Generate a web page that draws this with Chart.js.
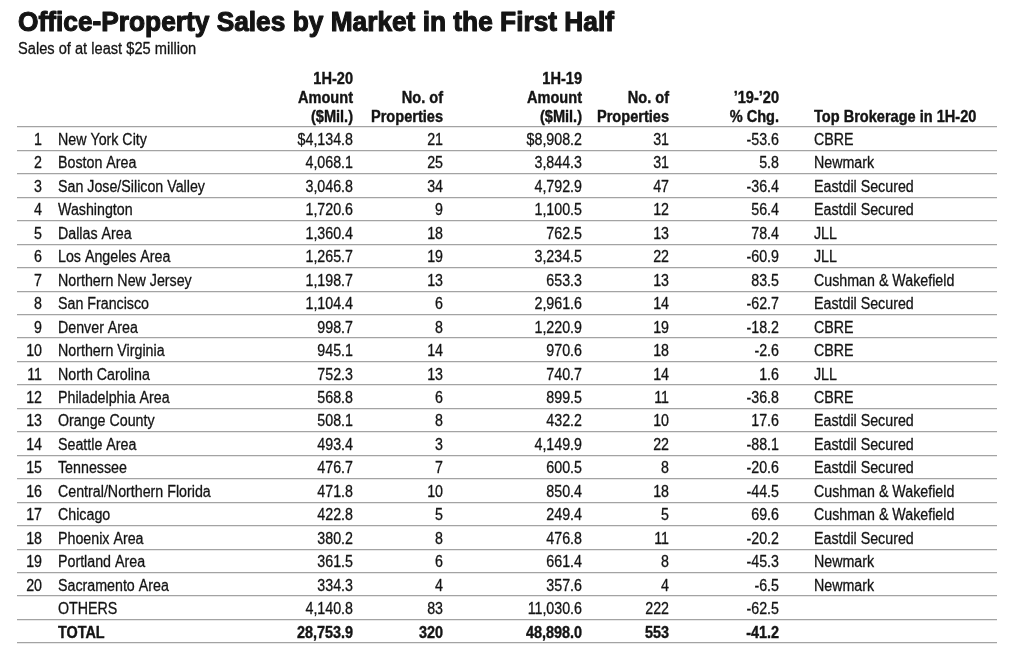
<!DOCTYPE html>
<html>
<head>
<meta charset="utf-8">
<script src="https://cdn.jsdelivr.net/npm/chart.js@4.4.1/dist/chart.umd.min.js"></script>
<style>
    html, body { margin: 0; padding: 0; background: #fff; }
    #wrap { width: 1024px; height: 667px; position: relative; }
</style>
</head>
<body>
<div id="wrap"><canvas id="salesTable"></canvas></div>
<script>
// table data
const ranks = [1, 2, 3, 4, 5, 6, 7, 8, 9, 10, 11, 12, 13, 14, 15, 16, 17, 18, 19, 20, null, null];
const markets = ['New York City', 'Boston Area', 'San Jose/Silicon Valley', 'Washington', 'Dallas Area',
    'Los Angeles Area', 'Northern New Jersey', 'San Francisco', 'Denver Area', 'Northern Virginia',
    'North Carolina', 'Philadelphia Area', 'Orange County', 'Seattle Area', 'Tennessee',
    'Central/Northern Florida', 'Chicago', 'Phoenix Area', 'Portland Area', 'Sacramento Area',
    'OTHERS', 'TOTAL'];
const amount20 = [4134.8, 4068.1, 3046.8, 1720.6, 1360.4, 1265.7, 1198.7, 1104.4, 998.7, 945.1,
    752.3, 568.8, 508.1, 493.4, 476.7, 471.8, 422.8, 380.2, 361.5, 334.3, 4140.8, 28753.9];
const props20 = [21, 25, 34, 9, 18, 19, 13, 6, 8, 14, 13, 6, 8, 3, 7, 10, 5, 8, 6, 4, 83, 320];
const amount19 = [8908.2, 3844.3, 4792.9, 1100.5, 762.5, 3234.5, 653.3, 2961.6, 1220.9, 970.6,
    740.7, 899.5, 432.2, 4149.9, 600.5, 850.4, 249.4, 476.8, 661.4, 357.6, 11030.6, 48898.0];
const props19 = [31, 31, 47, 12, 13, 22, 13, 14, 19, 18, 14, 11, 10, 22, 8, 18, 5, 11, 8, 4, 222, 553];
const pctChange = [-53.6, 5.8, -36.4, 56.4, 78.4, -60.9, 83.5, -62.7, -18.2, -2.6, 1.6, -36.8, 17.6,
    -88.1, -20.6, -44.5, 69.6, -20.2, -45.3, -6.5, -62.5, -41.2];
const brokerages = ['CBRE', 'Newmark', 'Eastdil Secured', 'Eastdil Secured', 'JLL', 'JLL',
    'Cushman & Wakefield', 'Eastdil Secured', 'CBRE', 'CBRE', 'JLL', 'CBRE', 'Eastdil Secured',
    'Eastdil Secured', 'Eastdil Secured', 'Cushman & Wakefield', 'Cushman & Wakefield',
    'Eastdil Secured', 'Newmark', 'Newmark', '', ''];

const titleText = 'Office-Property Sales by Market in the First Half';
const subtitleText = 'Sales of at least $25 million';

// column headers (one entry per column, lines stacked to the bottom)
const headers = [
    [], [],
    ['1H-20', 'Amount', '($Mil.)'],
    ['No. of', 'Properties'],
    ['1H-19', 'Amount', '($Mil.)'],
    ['No. of', 'Properties'],
    ['\u201919-\u201920', '% Chg.'],
    ['Top Brokerage in 1H-20']
];

const FONT = '"Liberation Sans", Arial, sans-serif';
const INK = '#141414';

// column anchors
const columns = [
    { x: 42, align: 'right' },
    { x: 58, align: 'left' },
    { x: 353, align: 'right' },
    { x: 443, align: 'right' },
    { x: 582, align: 'right' },
    { x: 669, align: 'right' },
    { x: 779, align: 'right' },
    { x: 814, align: 'left' }
];

function fmtAmount(v, i) {
    const s = v.toLocaleString('en-US', { minimumFractionDigits: 1, maximumFractionDigits: 1 });
    return i === 0 ? '$' + s : s;
}

function cellTexts(i) {
    return [
        ranks[i] === null ? '' : String(ranks[i]),
        markets[i],
        fmtAmount(amount20[i], i),
        String(props20[i]),
        fmtAmount(amount19[i], i),
        String(props19[i]),
        pctChange[i].toFixed(1),
        brokerages[i]
    ];
}

// draws condensed text: horizontal squeeze plus a thin stroke to thicken the strokes
function drawText(ctx, text, x, y, align, font, sx, weight) {
    ctx.save();
    ctx.font = font;
    ctx.textAlign = align;
    ctx.textBaseline = 'alphabetic';
    ctx.fillStyle = INK;
    ctx.strokeStyle = INK;
    ctx.lineJoin = 'round';
    ctx.translate(x, y);
    ctx.scale(sx, 1);
    ctx.fillText(text, 0, 0);
    if (weight) {
        ctx.lineWidth = weight;
        ctx.strokeText(text, 0, 0);
    }
    ctx.restore();
}

const tablePlugin = {
    id: 'tableText',
    afterDraw(chart) {
        const ctx = chart.ctx;
        const yScale = chart.scales.y;

        // title, squeezed to the width of the original
        ctx.save();
        ctx.font = 'bold 27px ' + FONT;
        const titleW = ctx.measureText(titleText).width;
        ctx.restore();
        drawText(ctx, titleText, 18, 31, 'left', 'bold 27px ' + FONT, 596 / titleW, 1.1);
        drawText(ctx, subtitleText, 18, 54, 'left', '16px ' + FONT, 0.915, 0.3);

        // header block
        const headerBase = [84, 103, 121.5];
        headers.forEach((lines, c) => {
            const offset = 3 - lines.length;
            lines.forEach((line, k) => {
                drawText(ctx, line, columns[c].x, headerBase[k + offset], columns[c].align,
                    'bold 16px ' + FONT, 0.91, 0.4);
            });
        });

        // body rows, placed on the category scale
        markets.forEach((m, i) => {
            const y = yScale.getPixelForValue(i) + 6.3;
            const bold = m === 'TOTAL';
            const font = (bold ? 'bold ' : '') + '16px ' + FONT;
            cellTexts(i).forEach((t, c) => {
                if (t) drawText(ctx, t, columns[c].x, y, columns[c].align, font, bold ? 0.9 : 0.89, bold ? 0.4 : 0.3);
            });
        });
    }
};

document.addEventListener('DOMContentLoaded', function() {
    const ctx = document.getElementById('salesTable').getContext('2d');
    window.salesTable = new Chart(ctx, {
        type: 'bar',
        data: {
            labels: markets,
            datasets: [{
                label: '1H-20 Amount',
                data: amount20,
                backgroundColor: 'rgba(0,0,0,0)',
                borderWidth: 0
            }]
        },
        options: {
            indexAxis: 'y',
            responsive: true,
            maintainAspectRatio: false,
            animation: false,
            events: [],
            layout: {
                padding: { top: 127, left: 17, right: 27, bottom: 24 }
            },
            plugins: {
                legend: { display: false },
                tooltip: { enabled: false },
                title: { display: false }
            },
            scales: {
                x: { display: false, min: 0 },
                y: {
                    type: 'category',
                    offset: true,
                    ticks: { display: false },
                    border: { display: false },
                    grid: {
                        offset: true,
                        drawTicks: false,
                        color: '#a3a3a3',
                        lineWidth: 1.3
                    }
                }
            }
        },
        plugins: [tablePlugin]
    });
});
</script>
</body>
</html>
